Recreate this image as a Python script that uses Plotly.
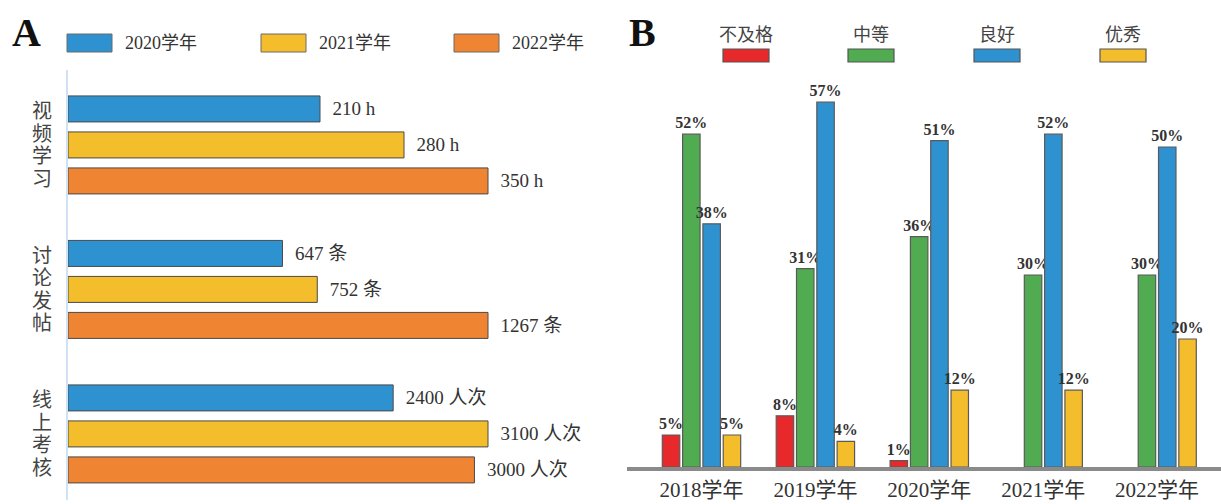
import plotly.graph_objects as go

W, H = 1221, 504

# ---------------- Panel A data ----------------
a_categories = ["视频学习", "讨论发帖", "线上考核"]
a_years = ["2020学年", "2021学年", "2022学年"]
a_2020 = [210, 647, 2400]
a_2021 = [280, 752, 3100]
a_2022 = [350, 1267, 3000]
a_units = ["h", "条", "人次"]

# ---------------- Panel B data ----------------
b_years = ["2018学年", "2019学年", "2020学年", "2021学年", "2022学年"]
b_levels = ["不及格", "中等", "良好", "优秀"]
b_fail = [5, 8, 1, None, None]
b_mid = [52, 31, 36, 30, 30]
b_good = [38, 57, 51, 52, 50]
b_excellent = [5, 4, 12, 12, 20]

# ---------------- styles ----------------
BLUE = "#2f92d0"
YELLOW = "#f4bd2b"
ORANGE = "#ef8532"
RED = "#e8292b"
GREEN = "#51ab50"
TXT = "#333333"
SERIF = "Liberation Serif, Noto Sans CJK SC, serif"

def px(x):
    return x / W

def py(y):
    return (H - y) / H

fig = go.Figure()

# ---- Panel A bars (normalized to group max) ----
a_series = [a_2020, a_2021, a_2022]
a_colors = [BLUE, YELLOW, ORANGE]
group_max = [max(s[i] for s in a_series) for i in range(len(a_categories))]
slot = 36 / 144.5
bw = 26 / 144.5
for k, (name, vals, col) in enumerate(zip(a_years, a_series, a_colors)):
    frac = [v / m for v, m in zip(vals, group_max)]
    txt = ["\u00a0\u00a0{} {}".format(v, u) for v, u in zip(vals, a_units)]
    fig.add_trace(go.Bar(
        name=name, x=frac, y=a_categories, orientation="h",
        xaxis="x", yaxis="y",
        width=bw, offset=(k - 1) * slot - bw / 2,
        marker=dict(color=col, line=dict(color="#4a4a4a", width=1)),
        text=txt, textposition="outside", constraintext="none",
        textfont=dict(family=SERIF, size=19, color=TXT),
        cliponaxis=False, showlegend=False, hoverinfo="skip",
    ))

# ---- Panel B bars ----
b_series = [b_fail, b_mid, b_good, b_excellent]
b_colors = [RED, GREEN, BLUE, YELLOW]
for name, vals, col in zip(b_levels, b_series, b_colors):
    txt = ["<b>{}%</b>".format(v) if v is not None else "" for v in vals]
    fig.add_trace(go.Bar(
        name=name, x=b_years, y=vals, xaxis="x2", yaxis="y2",
        marker=dict(color=col, line=dict(color="#5a5a5a", width=1.2)),
        text=txt, textposition="outside", constraintext="none",
        textfont=dict(family=SERIF, size=16, color=TXT),
        cliponaxis=False, showlegend=False, hoverinfo="skip",
    ))

shapes = []
annotations = []

# Panel A vertical axis line
shapes.append(dict(type="line", xref="paper", yref="paper",
                   x0=px(67), x1=px(67), y0=py(70), y1=py(500),
                   line=dict(color="#cfe1f2", width=2)))
# Panel B baseline
shapes.append(dict(type="line", xref="paper", yref="paper",
                   x0=px(627), x1=1, y0=py(469), y1=py(469),
                   line=dict(color="#8a8a8a", width=4)))

# Panel A legend
a_leg_rect_x = [67, 261, 454]
for name, col, x0 in zip(a_years, a_colors, a_leg_rect_x):
    shapes.append(dict(type="rect", xref="paper", yref="paper",
                       x0=px(x0), x1=px(x0 + 45), y0=py(52), y1=py(34),
                       fillcolor=col, line=dict(color="#6a6a6a", width=1)))
    annotations.append(dict(xref="paper", yref="paper", x=px(x0 + 56), y=py(43),
                            xanchor="left", yanchor="middle", showarrow=False,
                            text=name, font=dict(family=SERIF, size=18, color=TXT)))

# Panel B legend
b_leg_rect_x = [723, 848, 974, 1100]
for name, col, x0 in zip(b_levels, b_colors, b_leg_rect_x):
    shapes.append(dict(type="rect", xref="paper", yref="paper",
                       x0=px(x0), x1=px(x0 + 46), y0=py(62), y1=py(49),
                       fillcolor=col, line=dict(color="#555555", width=1.2)))
    annotations.append(dict(xref="paper", yref="paper", x=px(x0 + 23), y=py(35),
                            xanchor="center", yanchor="middle", showarrow=False,
                            text=name, font=dict(family=SERIF, size=18, color="#444")))

# Panel letters
annotations.append(dict(xref="paper", yref="paper", x=px(26), y=py(33),
                        xanchor="center", yanchor="middle", showarrow=False,
                        text="<b>A</b>", font=dict(family="Liberation Serif", size=40, color="#111")))
annotations.append(dict(xref="paper", yref="paper", x=px(642), y=py(33),
                        xanchor="center", yanchor="middle", showarrow=False,
                        text="<b>B</b>", font=dict(family="Liberation Serif", size=40, color="#111")))

# Panel A vertical category labels (one character per annotation)
for cat in a_categories:
    n = len(cat)
    for i, ch in enumerate(cat):
        annotations.append(dict(xref="paper", yref="y", x=px(42), y=cat,
                                xanchor="center", yanchor="middle", showarrow=False,
                                yshift=-(i - (n - 1) / 2) * 22.5,
                                text=ch, font=dict(family=SERIF, size=20, color="#444")))

fig.update_layout(
    width=W, height=H,
    margin=dict(l=0, r=0, t=0, b=0),
    paper_bgcolor="white", plot_bgcolor="rgba(0,0,0,0)",
    barmode="group", bargap=0.287, bargroupgap=0.14,
    shapes=shapes, annotations=annotations,
    xaxis=dict(domain=[px(68), px(620)], range=[0, 552 / 420], visible=False,
               anchor="y", fixedrange=True),
    yaxis=dict(domain=[0, 1], type="category", categoryorder="array",
               categoryarray=a_categories, range=[2.485, -1.003], visible=False,
               anchor="x", fixedrange=True),
    xaxis2=dict(domain=[px(627), 1], type="category", categoryorder="array",
                categoryarray=b_years, range=[-0.654, 4.561], anchor="y2",
                showgrid=False, zeroline=False, showline=False, ticks="",
                ticklabelstandoff=8,
                tickfont=dict(family=SERIF, size=21, color=TXT), fixedrange=True),
    yaxis2=dict(domain=[py(467), py(51)], range=[0, 65], visible=False,
                anchor="x2", fixedrange=True),
)

fig.write_html("out.html")
